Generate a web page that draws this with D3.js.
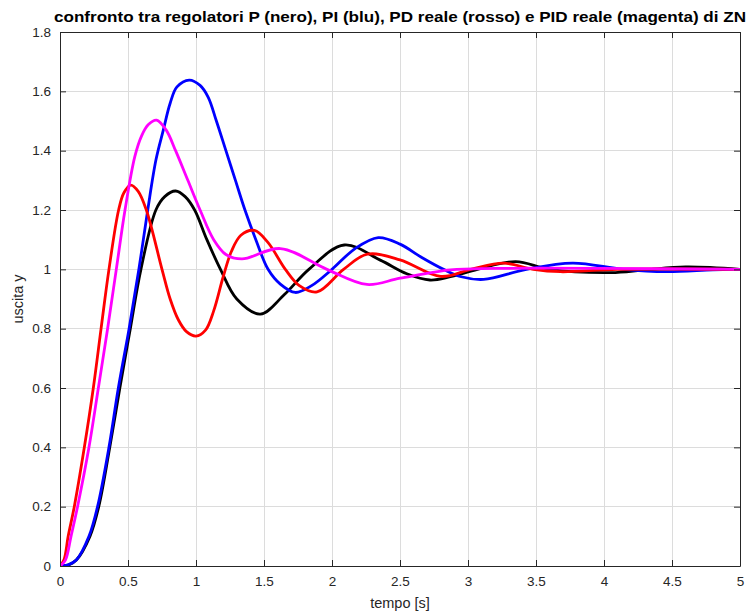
<!DOCTYPE html>
<html>
<head>
<meta charset="utf-8">
<script src="https://cdn.jsdelivr.net/npm/d3@7"></script>
<style>
  html, body { margin: 0; padding: 0; background: #fff; }
  svg { display: block; font-family: "Liberation Sans", Arial, Helvetica, sans-serif; }
</style>
</head>
<body>
<svg id="chart" width="748" height="615"></svg>
<script>
// ---- data ----
const titleText = "confronto tra regolatori P (nero), PI (blu), PD reale (rosso) e PID reale (magenta) di ZN";
const xLabel = "tempo [s]";
const yLabel = "uscita y";
const xTicks = [0, 0.5, 1, 1.5, 2, 2.5, 3, 3.5, 4, 4.5, 5];
const yTicks = [0, 0.2, 0.4, 0.6, 0.8, 1, 1.2, 1.4, 1.6, 1.8];

// P controller (black)
const pT = [0, 0.06, 0.12, 0.22, 0.285, 0.366, 0.44, 0.517, 0.595, 0.705, 0.77, 0.85, 0.92, 0.99, 1.08, 1.18, 1.3, 1.473, 1.65, 1.83, 2.09, 2.355, 2.55, 2.72, 2.87, 3.07, 3.35, 3.6, 4.05, 4.3, 4.6, 5];
const pY = [0, 0.003, 0.02, 0.1, 0.2, 0.4, 0.6, 0.8, 1.0, 1.2, 1.245, 1.264, 1.245, 1.2, 1.1, 1.0, 0.9, 0.849, 0.915, 1.0, 1.082, 1.031, 0.985, 0.964, 0.975, 1.0, 1.026, 1.0, 0.989, 0.998, 1.008, 1.0];

// PI controller (blue)
const piT = [0, 0.06, 0.12, 0.213, 0.276, 0.36, 0.429, 0.508, 0.58, 0.645, 0.706, 0.76, 0.81, 0.86, 0.95, 1.03, 1.09, 1.15, 1.22, 1.29, 1.36, 1.44, 1.53, 1.62, 1.73, 1.85, 2.0, 2.17, 2.34, 2.5, 2.66, 2.82, 2.95, 3.115, 3.43, 3.77, 4.14, 4.46, 4.8, 5];
const piY = [0, 0.004, 0.02, 0.1, 0.2, 0.4, 0.6, 0.8, 1.0, 1.2, 1.37, 1.47, 1.56, 1.615, 1.638, 1.62, 1.58, 1.5, 1.4, 1.3, 1.2, 1.1, 1.0, 0.95, 0.922, 0.945, 1.0, 1.07, 1.107, 1.085, 1.04, 1.0, 0.975, 0.966, 1.0, 1.021, 1.0, 0.992, 0.998, 1.0];

// real PD controller (red)
const pdT = [0, 0.03, 0.06, 0.105, 0.179, 0.245, 0.302, 0.36, 0.431, 0.47, 0.52, 0.575, 0.635, 0.75, 0.81, 0.87, 0.93, 1.0, 1.07, 1.13, 1.2, 1.26, 1.33, 1.43, 1.53, 1.657, 1.76, 1.89, 2.085, 2.26, 2.5, 2.8, 3.02, 3.26, 3.48, 3.68, 4.1, 5];
const pdY = [0, 0.022, 0.1, 0.2, 0.4, 0.6, 0.8, 1.0, 1.2, 1.258, 1.284, 1.263, 1.2, 1.0, 0.9, 0.83, 0.79, 0.775, 0.795, 0.86, 0.975, 1.06, 1.115, 1.131, 1.09, 1.0, 0.945, 0.924, 1.0, 1.051, 1.032, 0.976, 1.0, 1.021, 1.0, 0.992, 1.0, 1.0];

// real PID controller (magenta)
const pidT = [0, 0.04, 0.081, 0.129, 0.213, 0.282, 0.35, 0.414, 0.478, 0.55, 0.6, 0.65, 0.71, 0.78, 0.85, 0.94, 1.03, 1.13, 1.22, 1.338, 1.62, 1.963, 2.257, 2.5, 2.87, 3.2, 5];
const pidY = [0, 0.02, 0.1, 0.2, 0.4, 0.6, 0.8, 1.0, 1.2, 1.38, 1.45, 1.488, 1.503, 1.47, 1.4, 1.3, 1.2, 1.1, 1.05, 1.035, 1.07, 1.0, 0.949, 0.97, 0.998, 1.003, 1.0];

const seriesNames = ["P", "PI", "PD reale", "PID reale"];
const seriesColors = ["#000000", "#0000ff", "#ff0000", "#ff00ff"];

// ---- layout ----
const margin = { left: 60, right: 8, top: 32, bottom: 49 };
const W = 748, H = 615;
const x0 = margin.left, x1 = W - margin.right, y0 = H - margin.bottom, y1 = margin.top;

const x = d3.scaleLinear().domain([0, 5]).range([x0, x1]);
const y = d3.scaleLinear().domain([0, 1.8]).range([y0, y1]);

const svg = d3.select("#chart");
const axisColor = "#262626";

// grid
const grid = svg.append("g");
grid.selectAll("line.vx").data(xTicks).join("line")
  .attr("x1", d => x(d)).attr("x2", d => x(d))
  .attr("y1", y0).attr("y2", y1)
  .attr("stroke", "#dcdcdc").attr("stroke-width", 1).attr("shape-rendering", "crispEdges");
grid.selectAll("line.hy").data(yTicks).join("line")
  .attr("x1", x0).attr("x2", x1)
  .attr("y1", d => y(d)).attr("y2", d => y(d))
  .attr("stroke", "#dcdcdc").attr("stroke-width", 1).attr("shape-rendering", "crispEdges");

// clip
svg.append("clipPath").attr("id", "clip").append("rect")
  .attr("x", x0).attr("y", y1).attr("width", x1 - x0).attr("height", y0 - y1);

const series = [
  { t: pT, v: pY },
  { t: piT, v: piY },
  { t: pdT, v: pdY },
  { t: pidT, v: pidY }
];

const line = d3.line().x(d => x(d[0])).y(d => y(d[1])).curve(d3.curveCatmullRom.alpha(0.5));
const plot = svg.append("g").attr("clip-path", "url(#clip)");
series.forEach((s, i) => {
  plot.append("path")
    .datum(s.t.map((t, k) => [t, s.v[k]]))
    .attr("fill", "none")
    .attr("stroke", seriesColors[i])
    .attr("stroke-width", 2.8)
    .attr("stroke-linejoin", "round")
    .attr("d", line)
    .append("title").text(seriesNames[i]);
});

// axes (MATLAB-style box with inward ticks)
const tickLen = 6;
const xAxisB = d3.axisBottom(x).tickValues(xTicks).tickSizeInner(-tickLen).tickSizeOuter(0).tickPadding(10)
  .tickFormat(d => d3.format("")(d));
const xAxisT = d3.axisTop(x).tickValues(xTicks).tickSizeInner(-tickLen).tickSizeOuter(0).tickFormat("");
const yAxisL = d3.axisLeft(y).tickValues(yTicks).tickSizeInner(-tickLen).tickSizeOuter(0).tickPadding(9)
  .tickFormat(d => d3.format("")(+d.toFixed(1)));
const yAxisR = d3.axisRight(y).tickValues(yTicks).tickSizeInner(-tickLen).tickSizeOuter(0).tickFormat("");

function styleAxis(g) {
  g.selectAll("path.domain").attr("stroke", axisColor).attr("stroke-width", 1);
  g.selectAll(".tick line").attr("stroke", axisColor);
  g.selectAll(".tick text").attr("fill", axisColor).style("font-size", "13.5px")
    .style("font-family", "'Liberation Sans', Arial, sans-serif");
}
svg.append("g").attr("transform", `translate(0,${y0})`).call(xAxisB).call(styleAxis);
svg.append("g").attr("transform", `translate(0,${y1})`).call(xAxisT).call(styleAxis);
svg.append("g").attr("transform", `translate(${x0},0)`).call(yAxisL).call(styleAxis);
svg.append("g").attr("transform", `translate(${x1},0)`).call(yAxisR).call(styleAxis);

// labels
svg.append("text")
  .attr("x", (x0 + x1) / 2).attr("y", 22)
  .attr("text-anchor", "middle")
  .attr("fill", "#000")
  .attr("textLength", 692)
  .attr("lengthAdjust", "spacingAndGlyphs")
  .style("font-size", "15px").style("font-weight", "bold")
  .text(titleText);

svg.append("text")
  .attr("x", (x0 + x1) / 2).attr("y", 608)
  .attr("text-anchor", "middle")
  .attr("fill", axisColor)
  .style("font-size", "14.5px")
  .text(xLabel);

svg.append("text")
  .attr("transform", `translate(23,${(y0 + y1) / 2}) rotate(-90)`)
  .attr("text-anchor", "middle")
  .attr("fill", axisColor)
  .style("font-size", "14.5px")
  .text(yLabel);
</script>
</body>
</html>
